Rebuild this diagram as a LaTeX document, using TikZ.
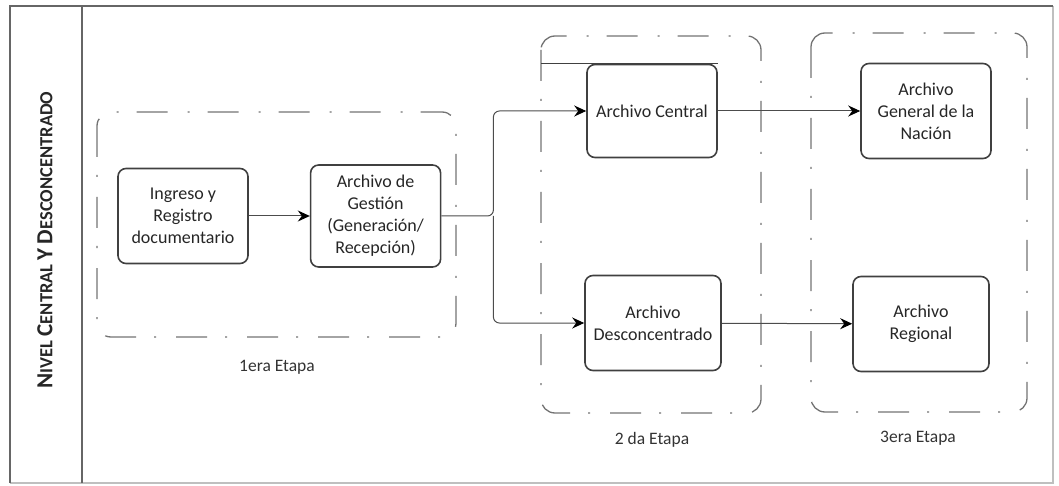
\documentclass[tikz,border=0pt]{standalone}
\usepackage{fontspec}
\setmainfont{Carlito}
\usetikzlibrary{arrows.meta,positioning}
\newcommand{\capi}[1]{{\fontsize{23}{24}\selectfont #1}}
\tikzset{
  basic/.style    = {draw=black!75, line width=1.6pt, rounded corners=8pt, align=center,
                     text=black!85, font=\fontsize{18}{22}\selectfont},
  archivo/.style  = {basic, minimum width=130pt, minimum height=95pt, inner sep=2pt},
  etapa/.style    = {draw=black!55, line width=1.3pt, rounded corners=14pt,
                     dash pattern=on 31pt off 18pt on 2pt off 20pt},
  etiqueta/.style = {font=\fontsize{17.5}{20}\selectfont, text=black!80},
  marco/.style    = {draw=black!60, line width=1.2pt}
}

\begin{document}
\begin{tikzpicture}[x=1pt, y=-1pt,
  flecha/.style={draw=black!70, line width=1pt, ->, rounded corners=6pt},
  >={Stealth[length=12pt,width=11pt,inset=4pt,color=black]}]
\useasboundingbox (0,0) rectangle (1059,486);

% outer frame and side title
\draw[marco, black!25] (1053,6) -- (1053,483) -- (10,483);
\draw[marco] (1053,6) -- (10,6) -- (10,483);
\draw[marco] (82,6) -- (82,483);
\node[rotate=90, text=black!85, font=\bfseries\fontsize{18.5}{20}\selectfont] (nivel) at (45,240)
  {\capi{N}IVEL \capi{C}ENTRAL \capi{Y} \capi{D}ESCONCENTRADO};

% stages
\draw[etapa] (97,112) rectangle (456,337);
\draw[etapa] (541,36) rectangle (761,413);
\draw[etapa] (811,33) rectangle (1027,412);

% first stage
\node[archivo] (ingreso) at (183,216) {Ingreso y\\Registro\\documentario};
\node[archivo, right=61pt of ingreso, minimum height=102pt] (gestion)
  {Archivo de\\Gestión\\(Generación/\\Recepción)};

% second and third stage
\node[archivo, minimum height=93pt] (central) at (652,111) {Archivo Central};
\node[archivo, minimum width=136pt] (descon) at (653,323) {Archivo\\Desconcentrado};
\node[archivo] (nacion) at (926,111) {Archivo\\General de la\\Nación};
\node[archivo, minimum width=136pt] (regional) at (921,324) {Archivo\\Regional};

\node[etiqueta] (e1) at (277,367) {1era Etapa};
\node[etiqueta] (e2) at (652,440) {2 da Etapa};
\node[etiqueta] (e3) at (918,438) {3era Etapa};

% solid stroke along the top of stage 2
\coordinate (g2nw) at (541,63);
\draw[basic] (central.north east) -- (central.north east -| g2nw);

% connectors
\coordinate (split) at ([xshift=52pt]gestion.east);
\draw[flecha] (ingreso) -- (gestion);
\draw[flecha] (gestion.east) -- (split) |- (central.west);
\draw[flecha] (split) |- (descon.west);
\draw[flecha] (central) -- (nacion);
\draw[flecha] (descon) -- (regional);

\end{tikzpicture}
\end{document}
